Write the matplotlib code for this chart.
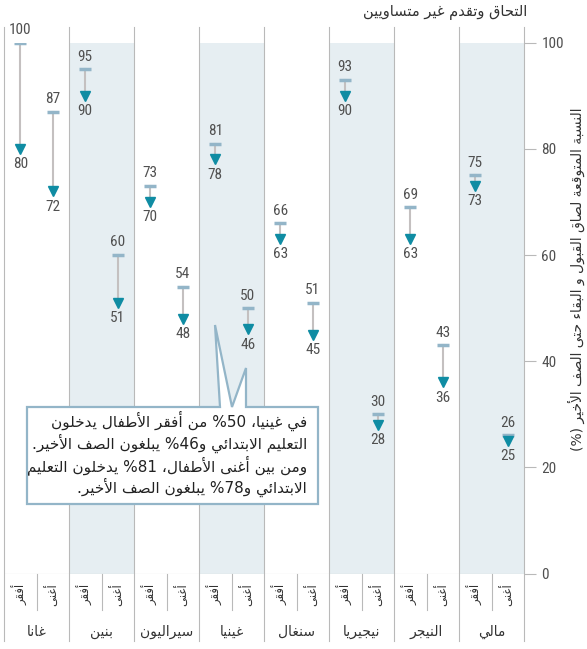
import re
import matplotlib.pyplot as plt
from matplotlib.patches import Polygon

# ---- data (left column, right column of each country) ----
countries = ['غانا', 'بنين', 'سيراليون', 'غينيا', 'سنغال', 'نيجيريا', 'النيجر', 'مالي']
left_start = [100, 95, 73, 81, 66, 93, 69, 75]
left_end = [80, 90, 70, 78, 63, 90, 63, 73]
right_start = [87, 60, 54, 50, 51, 30, 43, 26]
right_end = [72, 51, 48, 46, 45, 28, 36, 25]
sub_labels = ['أفقر', 'أغنى']
y_ticks = [0, 20, 40, 60, 80, 100]

title = 'التحاق وتقدم غير متساويين'
ylabel = 'النسبة المتوقعة لصاق القبول و البقاء حتى الصف الأخير (%)'
note = ['في غينيا، 50% من أفقر الأطفال يدخلون',
        'التعليم الابتدائي و46% يبلغون الصف الأخير.',
        'ومن بين أغنى الأطفال، 81% يدخلون التعليم',
        'الابتدائي و78% يبلغون الصف الأخير.']

# ---- minimal arabic shaping + rtl ordering (matplotlib has no shaping) ----
RIGHT = {'آ': 0xFE81, 'أ': 0xFE83, 'ؤ': 0xFE85, 'إ': 0xFE87, 'ا': 0xFE8D, 'ة': 0xFE93,
         'د': 0xFEA9, 'ذ': 0xFEAB, 'ر': 0xFEAD, 'ز': 0xFEAF, 'و': 0xFEED, 'ى': 0xFEEF}
DUAL = {'ئ': 0xFE89, 'ب': 0xFE8F, 'ت': 0xFE95, 'ث': 0xFE99, 'ج': 0xFE9D, 'ح': 0xFEA1,
        'خ': 0xFEA5, 'س': 0xFEB1, 'ش': 0xFEB5, 'ص': 0xFEB9, 'ض': 0xFEBD, 'ط': 0xFEC1,
        'ظ': 0xFEC5, 'ع': 0xFEC9, 'غ': 0xFECD, 'ف': 0xFED1, 'ق': 0xFED5, 'ك': 0xFED9,
        'ل': 0xFEDD, 'م': 0xFEE1, 'ن': 0xFEE5, 'ه': 0xFEE9, 'ي': 0xFEF1}
LAMALEF = {'آ': 0xFEF5, 'أ': 0xFEF7, 'إ': 0xFEF9, 'ا': 0xFEFB}


def shape(s):
    toks = []
    i = 0
    while i < len(s):
        if s[i] == 'ل' and i + 1 < len(s) and s[i + 1] in LAMALEF:
            toks.append(('LA', s[i + 1]))
            i += 2
        else:
            toks.append(('C', s[i]))
            i += 1

    def fwd(t):
        return t[0] == 'C' and t[1] in DUAL

    def joinable(t):
        return t[0] == 'LA' or t[1] in DUAL or t[1] in RIGHT

    out = []
    for k, t in enumerate(toks):
        prev = toks[k - 1] if k > 0 else None
        nxt = toks[k + 1] if k + 1 < len(toks) else None
        jp = prev is not None and fwd(prev) and joinable(t)
        if t[0] == 'LA':
            out.append(chr(LAMALEF[t[1]] + jp))
            continue
        c = t[1]
        if c in DUAL:
            jn = nxt is not None and joinable(nxt)
            b = DUAL[c]
            out.append(chr(b + 3 if jp and jn else b + 1 if jp else b + 2 if jn else b))
        elif c in RIGHT:
            out.append(chr(RIGHT[c] + jp))
        elif c == 'ء':
            out.append('\uFE80')
        else:
            out.append(c)
    return ''.join(out)


def ar(s):
    s = shape(s)
    runs = re.findall(r'[0-9]+|[^0-9]+', s)
    mirror = str.maketrans('()', ')(')
    return ''.join(r if r[0].isdigit() else r[::-1].translate(mirror) for r in reversed(runs))


AR = ['DejaVu Sans']
NUM = ['Liberation Sans Narrow', 'DejaVu Sans Condensed', 'Roboto Condensed', 'DejaVu Sans']
sep = '#b9b9b9'
shade = '#e6eef2'
barc = '#93b5c8'
linec = '#c4c0c0'
teal = '#0f8ca3'
numc = '#505050'

W, H = 587, 649
fig = plt.figure(figsize=(W / 100, H / 100), dpi=100)
ax = fig.add_axes([4 / W, (H - 573.5) / H, 520 / W, 530.8 / H])
ax.set_xlim(0, 16)
ax.set_ylim(0, 100)
for s in ax.spines.values():
    s.set_visible(False)

for i in range(1, 8, 2):
    ax.axvspan(2 * i, 2 * i + 2, color=shade, lw=0, zorder=0)
for i in range(9):
    ax.plot([2 * i, 2 * i], [-12.7, 102.9], color=sep, lw=0.8, clip_on=False, zorder=1)
for i in range(8):
    ax.plot([2 * i + 1] * 2, [-6.9, 0], color=sep, lw=0.8, clip_on=False, zorder=1)
ax.axhline(0, color=sep, lw=0.8, zorder=1)

ax.yaxis.tick_right()
ax.set_yticks(y_ticks)
ax.set_xticks([])
ax.tick_params(axis='y', length=8.6, width=0.8, color=sep, pad=4, labelsize=11, labelcolor=numc)
for lab in ax.get_yticklabels():
    lab.set_family(NUM)

for i in range(len(countries)):
    for j, (s, e) in enumerate([(left_start[i], left_end[i]), (right_start[i], right_end[i])]):
        x = 2 * i + 0.5 + j
        ax.plot([x, x], [s, e], color=linec, lw=1.5, zorder=2)
        ax.plot(x, s, marker='_', ms=9, mew=2.5, color=barc, zorder=3)
        ax.plot(x, e, marker='v', ms=7, color=teal, mec=teal, zorder=3)
        ax.annotate(str(s), (x, s), xytext=(0, 4), textcoords='offset points',
                    ha='center', va='bottom', fontsize=11, family=NUM, color=numc)
        ax.annotate(str(e), (x, e), xytext=(0, -6), textcoords='offset points',
                    ha='center', va='top', fontsize=11, family=NUM, color=numc)
        ax.text(x, -3.9, ar(sub_labels[j]), rotation=90, ha='center', va='center',
                fontsize=8.5, family=AR, color='#333333', clip_on=False)
    ax.text(2 * i + 1, -11, ar(countries[i]), ha='center', va='center',
            fontsize=10, family=AR, color='#333333', clip_on=False)

fig.text(527 / W, 1 - 12 / H, ar(title), ha='right', va='center', fontsize=10.5,
         family=AR, color='#333333')
fig.text(576 / W, 1 - 279 / H, ar(ylabel), rotation=90, ha='center', va='center',
         fontsize=10, family=AR, color='#333333')

# callout box
pts = [(27, 407), (220, 407), (215, 325), (232, 407), (246, 368), (246, 407),
       (318, 407), (318, 504), (27, 504)]
poly = Polygon([(x / W, 1 - y / H) for x, y in pts], closed=True, transform=fig.transFigure,
               facecolor='white', edgecolor=barc, lw=1.6, zorder=5)
fig.patches.append(poly)
for k, line in enumerate(note):
    fig.text(307 / W, 1 - (427 + 22 * k) / H, ar(line), ha='right', va='baseline',
             fontsize=11, family=AR, color='#222222', zorder=6)

fig.savefig('out.png', dpi=100)
